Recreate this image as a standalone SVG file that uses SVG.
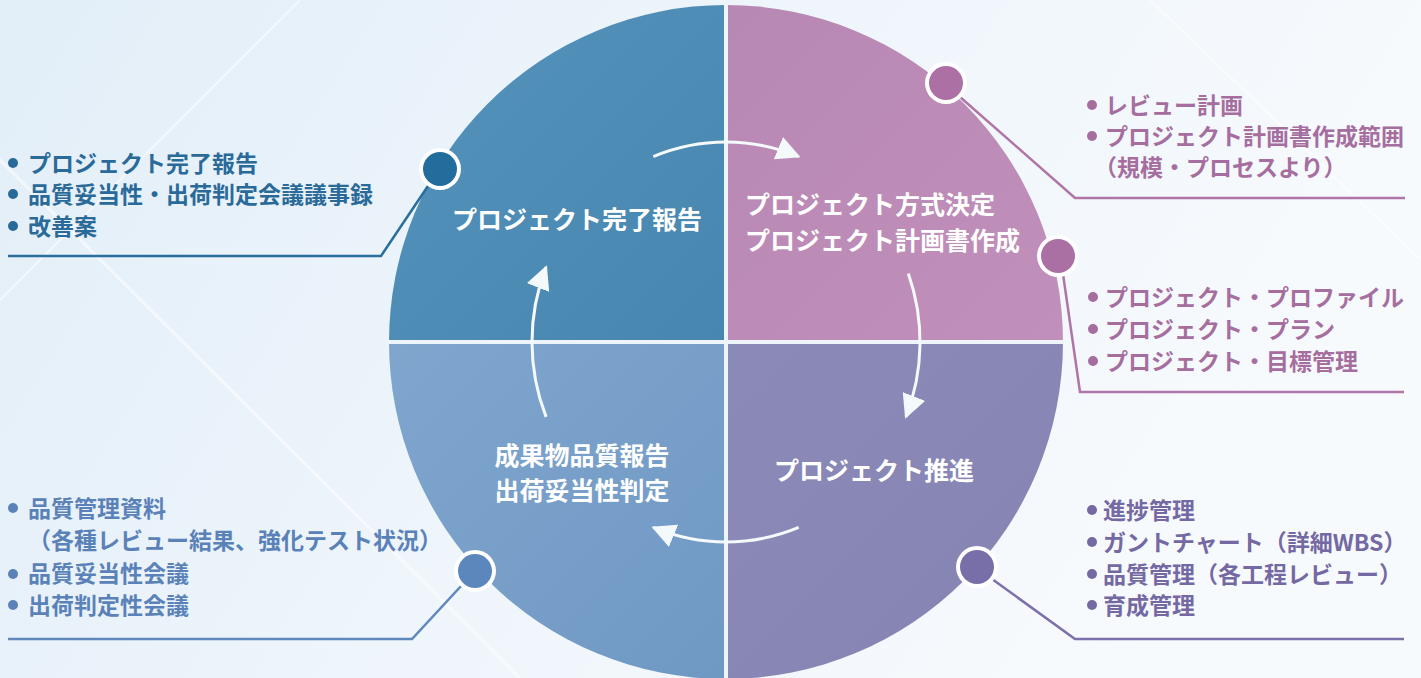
<svg xmlns="http://www.w3.org/2000/svg" width="1421" height="678" viewBox="0 0 1421 678">
<defs>
<linearGradient id="bg" x1="0" y1="0" x2="1" y2="0.3">
<stop offset="0" stop-color="#e2eef8"/>
<stop offset="0.5" stop-color="#eef5fb"/>
<stop offset="1" stop-color="#f7fafd"/>
</linearGradient>
<linearGradient id="gTL" x1="0" y1="0" x2="1" y2="1">
<stop offset="0" stop-color="#5593bd"/>
<stop offset="1" stop-color="#4786ae"/>
</linearGradient>
<linearGradient id="gTR" x1="0" y1="0" x2="1" y2="1">
<stop offset="0" stop-color="#b888b4"/>
<stop offset="1" stop-color="#c08fba"/>
</linearGradient>
<linearGradient id="gBR" x1="0" y1="0" x2="1" y2="1">
<stop offset="0" stop-color="#8a8ab9"/>
<stop offset="1" stop-color="#8683b1"/>
</linearGradient>
<linearGradient id="gBL" x1="0" y1="0" x2="1" y2="1">
<stop offset="0" stop-color="#80a6ce"/>
<stop offset="1" stop-color="#6f98c3"/>
</linearGradient>
<marker id="ah" viewBox="0 0 24 24" refX="22" refY="12" markerWidth="24" markerHeight="24" markerUnits="userSpaceOnUse" orient="auto">
<path d="M0,0 L24,12 L0,24 Z" fill="#f4f9fc"/>
</marker>
<style>
.lbl{font-family:"Noto Sans CJK JP","Noto Sans",sans-serif;font-weight:700;font-size:25px;fill:#ffffff}
.lst{font-family:"Noto Sans CJK JP","Noto Sans",sans-serif;font-weight:700;font-size:23px}
.arr{fill:none;stroke:#f4f9fc;stroke-width:3;marker-end:url(#ah)}
.lead{fill:none;stroke-width:2.5}
.gap{stroke:#eef5fa;stroke-width:4}
.ring{fill:#ffffff}
</style>
</defs>
<rect width="1421" height="678" fill="url(#bg)"/>
<g id="background-streaks" stroke="#ffffff" stroke-opacity="0.5" fill="none">
<line x1="-40" y1="120" x2="520" y2="678" stroke-width="3"/>
<line x1="1150" y1="0" x2="1421" y2="260" stroke-width="2"/>
<line x1="300" y1="0" x2="0" y2="300" stroke-width="2"/>
</g>

<g id="node-complete">
<path d="M726,342 L726,5 A337,337 0 0 0 389,342 Z" fill="url(#gTL)"/>
<text class="lbl" x="577" y="229" text-anchor="middle">プロジェクト完了報告</text>
</g>
<g id="node-plan">
<path d="M726,342 L726,5 A337,337 0 0 1 1063,342 Z" fill="url(#gTR)"/>
<text class="lbl" x="745" y="214">プロジェクト方式決定</text>
<text class="lbl" x="745" y="250">プロジェクト計画書作成</text>
</g>
<g id="node-progress">
<path d="M726,342 L1063,342 A337,337 0 0 1 726,679 Z" fill="url(#gBR)"/>
<text class="lbl" x="874" y="480" text-anchor="middle">プロジェクト推進</text>
</g>
<g id="node-quality">
<path d="M726,342 L726,679 A337,337 0 0 1 389,342 Z" fill="url(#gBL)"/>
<text class="lbl" x="582" y="465" text-anchor="middle">成果物品質報告</text>
<text class="lbl" x="582" y="500" text-anchor="middle">出荷妥当性判定</text>
</g>
<g id="gaps">
<line class="gap" x1="726" y1="4" x2="726" y2="680"/>
<line class="gap" x1="388" y1="342" x2="1064" y2="342"/>
</g>

<g id="connectors">
<path class="arr" d="M653.3,156.6 A194,200 0 0 1 798.7,156.6"/>
<path class="arr" d="M908.3,273.6 A194,200 0 0 1 905.9,416.9"/>
<path class="arr" d="M798.7,527.4 A194,200 0 0 1 653.3,527.4"/>
<path class="arr" d="M546.1,416.9 A194,200 0 0 1 546.1,267.1"/>
<polyline class="lead" stroke="#2a6e9e" points="428,186 381,256 8,256"/>
<polyline class="lead" stroke="#b075a8" points="960,97 1075,198 1405,198"/>
<polyline class="lead" stroke="#b075a8" points="1063,274 1080,392 1404,392"/>
<polyline class="lead" stroke="#7a70aa" points="992,579 1075,639 1404,639"/>
<polyline class="lead" stroke="#5f88bd" points="462,585 412,639 8,639"/>
</g>

<g id="list-complete" fill="#2a6a99">
<circle class="ring" cx="440" cy="169" r="21"/>
<circle cx="440" cy="169" r="17" fill="#226d9c"/>
<circle cx="13" cy="163" r="5"/>
<circle cx="13" cy="194" r="5"/>
<circle cx="13" cy="226" r="5"/>
<text class="lst" x="28" y="172">プロジェクト完了報告</text>
<text class="lst" x="28" y="203">品質妥当性・出荷判定会議議事録</text>
<text class="lst" x="28" y="235">改善案</text>
</g>
<g id="list-plan-review" fill="#a56e9f">
<circle class="ring" cx="946" cy="83" r="21"/>
<circle cx="946" cy="83" r="17" fill="#ac70a4"/>
<circle cx="1092" cy="105" r="5"/>
<circle cx="1092" cy="136" r="5"/>
<text class="lst" x="1105" y="114">レビュー計画</text>
<text class="lst" x="1105" y="145">プロジェクト計画書作成範囲</text>
<text class="lst" x="1094" y="176">（規模・プロセスより）</text>
</g>
<g id="list-plan-profile" fill="#a56e9f">
<circle class="ring" cx="1058" cy="256" r="21"/>
<circle cx="1058" cy="256" r="17" fill="#ab70a3"/>
<circle cx="1093" cy="297" r="5"/>
<circle cx="1093" cy="329" r="5"/>
<circle cx="1093" cy="361" r="5"/>
<text class="lst" x="1105" y="306">プロジェクト・プロファイル</text>
<text class="lst" x="1105" y="338">プロジェクト・プラン</text>
<text class="lst" x="1105" y="370">プロジェクト・目標管理</text>
</g>
<g id="list-progress" fill="#7469a3">
<circle class="ring" cx="977" cy="567" r="21"/>
<circle cx="977" cy="567" r="17" fill="#786ea8"/>
<circle cx="1092" cy="510" r="5"/>
<circle cx="1092" cy="542" r="5"/>
<circle cx="1092" cy="574" r="5"/>
<circle cx="1092" cy="605" r="5"/>
<text class="lst" x="1103" y="519">進捗管理</text>
<text class="lst" x="1103" y="551">ガントチャート（詳細WBS）</text>
<text class="lst" x="1103" y="583">品質管理（各工程レビュー）</text>
<text class="lst" x="1103" y="614">育成管理</text>
</g>
<g id="list-quality" fill="#5a82b8">
<circle class="ring" cx="475" cy="571" r="21"/>
<circle cx="475" cy="571" r="17" fill="#5b87bd"/>
<circle cx="13" cy="508" r="5"/>
<circle cx="13" cy="574" r="5"/>
<circle cx="13" cy="605" r="5"/>
<text class="lst" x="28" y="517">品質管理資料</text>
<text class="lst" x="28" y="549">（各種レビュー結果、強化テスト状況）</text>
<text class="lst" x="28" y="582">品質妥当性会議</text>
<text class="lst" x="28" y="614">出荷判定性会議</text>
</g>
</svg>
